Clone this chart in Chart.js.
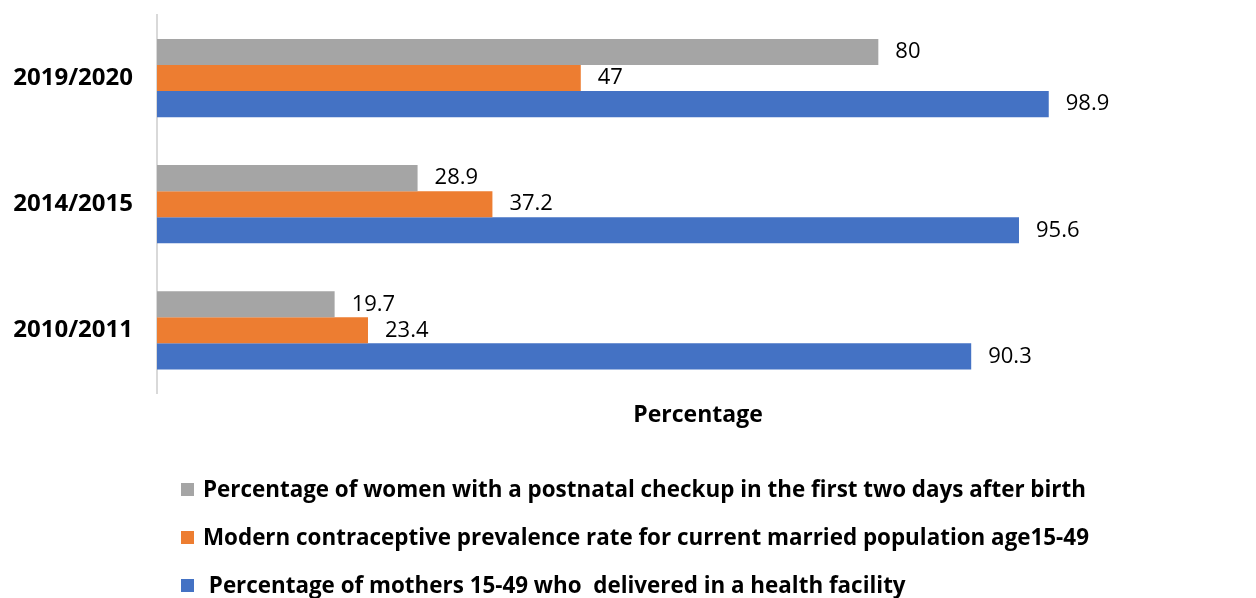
<!DOCTYPE html>
<html><head><meta charset="utf-8">
<script src="https://cdn.jsdelivr.net/npm/chart.js@4"></script>
<style>
html,body{margin:0;padding:0;background:#fff;overflow:hidden;}
#wrap{position:relative;width:1256px;height:598px;}
#legend{position:absolute;left:181px;top:0;width:1070px;height:598px;}
.item{position:absolute;left:0;height:30px;line-height:30px;white-space:pre;font-family:'Open Sans',sans-serif;font-weight:bold;font-size:22.4px;color:#000;display:flex;align-items:center;}
.box{width:13px;height:13px;margin-right:9px;flex:none;}
</style></head>
<body>
<div id="wrap"><canvas id="c" width="1256" height="598"></canvas><div id="legend"></div></div>
<script>
const categories = ['2019/2020', '2014/2015', '2010/2011'];
const postnatalCheckup = [80, 28.9, 19.7];
const contraceptiveRate = [47, 37.2, 23.4];
const healthFacilityDelivery = [98.9, 95.6, 90.3];
const seriesNames = [
  'Percentage of women with a postnatal checkup in the first two days after birth',
  'Modern contraceptive prevalence rate for current married population age15-49',
  ' Percentage of mothers 15-49 who  delivered in a health facility'
];
const seriesColors = ['#A5A5A5', '#ED7D31', '#4472C4'];
const axisTitle = 'Percentage';

const FONT = "'Open Sans', sans-serif";

const valueLabels = {
  id: 'valueLabels',
  afterDatasetsDraw(chart) {
    const ctx = chart.ctx;
    ctx.save();
    ctx.font = '22px ' + FONT;
    ctx.fillStyle = '#000';
    ctx.textBaseline = 'middle';
    ctx.textAlign = 'left';
    chart.data.datasets.forEach((ds, i) => {
      chart.getDatasetMeta(i).data.forEach((bar, j) => {
        ctx.fillText(String(ds.data[j]), bar.x + 17, bar.y);
      });
    });
    ctx.restore();
  }
};

const chart = new Chart(document.getElementById('c'), {
  type: 'bar',
  data: {
    labels: categories,
    datasets: [
      { label: seriesNames[0], data: postnatalCheckup, backgroundColor: seriesColors[0] },
      { label: seriesNames[1], data: contraceptiveRate, backgroundColor: seriesColors[1] },
      { label: seriesNames[2], data: healthFacilityDelivery, backgroundColor: seriesColors[2] }
    ]
  },
  options: {
    indexAxis: 'y',
    responsive: false,
    animation: false,
    events: [],
    layout: { padding: { top: 15, right: 17, bottom: 161, left: 0 } },
    datasets: { bar: { categoryPercentage: 0.62, barPercentage: 1.0 } },
    plugins: { legend: { display: false }, tooltip: { enabled: false } },
    scales: {
      x: {
        min: 0, max: 120,
        grid: { display: false, drawTicks: false },
        border: { display: false },
        ticks: { display: false },
        title: { display: true, text: axisTitle, color: '#000',
          font: { family: FONT, size: 23, weight: 'bold', lineHeight: 1.2 },
          padding: { top: 8, bottom: 8 } },
        afterFit(scale) { scale.paddingLeft = 0; scale.paddingRight = 0; }
      },
      y: {
        grid: { display: false, drawTicks: false },
        border: { display: true, color: '#D9D9D9', width: 2 },
        ticks: { color: '#000', padding: 24, font: { family: FONT, size: 24, weight: 'bold' } },
        afterFit(scale) { scale.width = 157; scale.paddingTop = 0; scale.paddingBottom = 0; }
      }
    }
  },
  plugins: [valueLabels]
});

const legend = document.getElementById('legend');
const rowTops = [474, 522, 570];
seriesNames.forEach((name, i) => {
  const d = document.createElement('div');
  d.className = 'item';
  d.style.top = rowTops[i] + 'px';
  const b = document.createElement('span');
  b.className = 'box';
  b.style.background = seriesColors[i];
  const t = document.createElement('span');
  t.textContent = name;
  d.appendChild(b); d.appendChild(t);
  legend.appendChild(d);
});
</script>
</body></html>
